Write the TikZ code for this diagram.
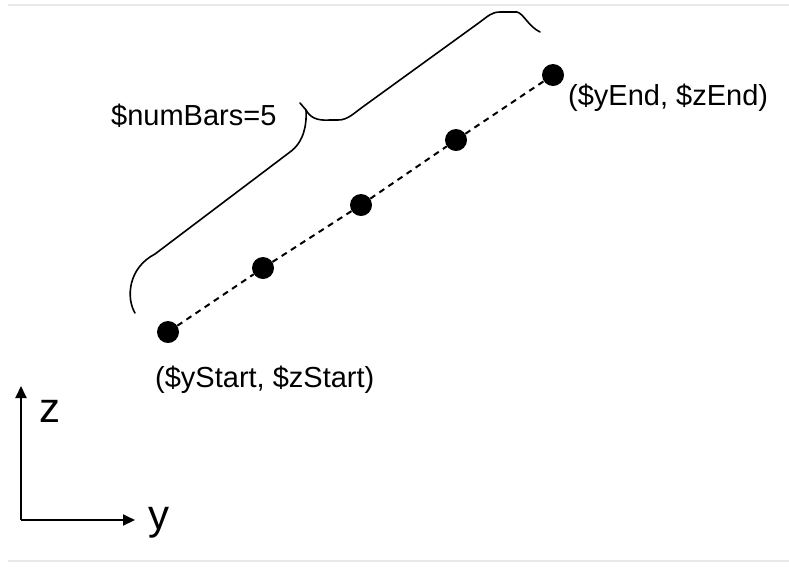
\documentclass[tikz,border=0pt]{standalone}
\usepackage{fontspec}
\setmainfont{Liberation Sans}
\usetikzlibrary{arrows.meta}
\begin{document}
\begin{tikzpicture}[x=1pt,y=-1pt,
  dotnode/.style={circle,fill=black,inner sep=0pt,minimum size=22pt},
  lbl/.style={inner sep=0pt,anchor=west,font=\fontsize{29}{32}\selectfont},
  axlbl/.style={inner sep=0pt,font=\fontsize{42}{46}\selectfont},
  dashline/.style={line width=2pt,dash pattern=on 6pt off 5pt},
  bracepath/.style={line width=1.6pt,line join=round,line cap=round},
  axis/.style={line width=2pt,-{Triangle[length=12pt,width=11pt]}},
  frameline/.style={gray!18,line width=2pt}]
\useasboundingbox (0,0) rectangle (789,566);
\draw[frameline] (8,5) -- (789,5);
\draw[frameline] (8,561) -- (789,561);
% dots
\node[dotnode] (d1) at (168,332) {};
\node[dotnode] (d2) at (263,268) {};
\node[dotnode] (d3) at (361,205) {};
\node[dotnode] (d4) at (456,140) {};
\node[dotnode] (d5) at (553,75) {};
\draw[dashline] (d1) -- (d2) -- (d3) -- (d4) -- (d5);
% labels
\node[lbl] (ls) at (155,380) {(\$yStart, \$zStart)};
\node[lbl] (le) at (568,98) {(\$yEnd, \$zEnd)};
\node[lbl] (nb) at (111,116) {\$numBars=5};
% brace
\draw[bracepath] (135,313) .. controls (126,298) and (128,268) .. (155,254)
  -- (290,152) .. controls (304,142) and (307,124) .. (306,110) -- (300,103);
\draw[bracepath] (306,110) .. controls (310,117) and (316,121) .. (330,120)
  -- (338,120) .. controls (348,120) and (354,113) .. (364,106)
  -- (480,22) .. controls (488,16) and (492,12) .. (500,12)
  -- (517,12) .. controls (524,14) and (528,26) .. (540,32);
% axes
\coordinate (o) at (21,520);
\coordinate (zt) at (21,386);
\coordinate (yt) at (135,520);
\draw[axis] (o) -- (zt);
\draw[axis] (o) -- (yt);
\node[axlbl] (zl) at (50,411) {z};
\node[axlbl] (yl) at (159,523) {y};
\end{tikzpicture}
\end{document}
